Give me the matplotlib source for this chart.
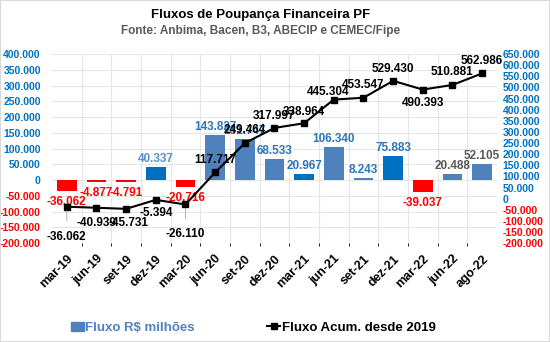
import matplotlib.pyplot as plt
from matplotlib.patches import Patch, Rectangle
from matplotlib.lines import Line2D
from matplotlib.ticker import FixedLocator, FuncFormatter

plt.rcParams['font.family'] = ['Liberation Sans', 'DejaVu Sans']
plt.rcParams['font.weight'] = 'bold'

quarters = ['mar-19', 'jun-19', 'set-19', 'dez-19', 'mar-20', 'jun-20', 'set-20',
            'dez-20', 'mar-21', 'jun-21', 'set-21', 'dez-21', 'mar-22', 'jun-22', 'ago-22']
# fluxo trimestral, R$ milhoes
fluxo = [-36062, -4877, -4791, 40337, -20716, 143827, 131747,
         68533, 20967, 106340, 8243, 75883, -39037, 20488, 52105]
# fluxo acumulado desde 2019
acumulado = [-36062, -40939, -45731, -5394, -26110, 117717, 249464,
             317997, 338964, 445304, 453547, 529430, 490393, 510881, 562986]

RED = '#FF0000'
STEEL = '#4F81BD'
DARK = '#0070C0'
bar_colors = [RED, RED, RED, DARK, RED, STEEL, STEEL,
              STEEL, DARK, STEEL, STEEL, DARK, RED, STEEL, STEEL]
bar_label_colors = [RED, RED, RED, '#5B8FC9', RED, '#2E75B6', '#2E75B6',
                    '#2E75B6', '#2E75B6', '#2E75B6', '#2E75B6', '#2E75B6', RED,
                    '#595959', '#595959']
# deslocamento (px) dos rotulos da linha
line_offsets = [(0, -30), (0, -15), (2, -14), (0, -13), (0, -30), (0, 12), (0, 13),
                (0, 12), (0, 11), (-6, 8), (0, 13), (0, 12), (0, -13), (0, 13), (0, 12)]
leader = [True, False, False, False, True] + [False] * 10


def br(v, pos=None):
    s = f"{abs(v):,.0f}".replace(',', '.')
    return ('-' if v < 0 else '') + s


fig = plt.figure(figsize=(5.5, 3.42), dpi=100)
fig.patches.append(Rectangle((0, 0), 1, 1, transform=fig.transFigure,
                             fill=False, edgecolor='#D9D9D9', lw=1.5))
ax = fig.add_axes([0.0945, 0.289, 0.809, 0.553])
ax2 = ax.twinx()

x = list(range(len(quarters)))
ax.bar(x, fluxo, width=0.66, color=bar_colors, zorder=2)
ax.set_xlim(-0.5, len(quarters) - 0.5)
ax.set_ylim(-200000, 400000)
ax.yaxis.set_major_locator(FixedLocator(range(-200000, 400001, 50000)))
ax.yaxis.set_major_formatter(FuncFormatter(br))
ax.grid(True, color='#E6E6E6', lw=0.8, zorder=0)
ax.set_xticks([i + 0.5 for i in x[:-1]], minor=True)
ax.xaxis.grid(False)
ax.xaxis.grid(True, which='minor', color='#E6E6E6', lw=0.8)
ax.set_xticks(x)
ax.set_xticklabels(quarters, rotation=45, ha='right', rotation_mode='anchor',
                   fontsize=9, fontweight='bold')
ax.tick_params(axis='both', length=0)
ax.tick_params(axis='x', pad=7)
ax.tick_params(axis='y', labelsize=7.5, pad=8)
for t in ax.get_yticklabels():
    t.set_color(RED if t.get_text().startswith('-') else DARK)
    t.set_fontweight('bold')

for i, v in enumerate(fluxo):
    ax.annotate(br(v), (i, v), xytext=(0, 8 if v > 0 else -11),
                textcoords='offset pixels', ha='center', va='center',
                fontsize=8.5, fontweight='bold', color=bar_label_colors[i], zorder=3)

ax2.plot(x, acumulado, color='black', lw=1.5, marker='s', markersize=4.5, zorder=4)
ax2.set_ylim(-200000, 650000)
ax2.yaxis.set_major_locator(FixedLocator(range(-200000, 650001, 50000)))
ax2.yaxis.set_major_formatter(FuncFormatter(br))
ax2.tick_params(axis='y', length=0, labelsize=7.5, pad=4)
for t in ax2.get_yticklabels():
    t.set_color(RED if t.get_text().startswith('-') else DARK)
    t.set_fontweight('bold')

for i, v in enumerate(acumulado):
    dx, dy = line_offsets[i]
    props = dict(arrowstyle='-', color='#A6A6A6', lw=0.6, shrinkA=5, shrinkB=3) if leader[i] else None
    ax2.annotate(br(v), (i, v), xytext=(dx, dy), textcoords='offset pixels',
                 ha='center', va='center', fontsize=8.5, fontweight='bold',
                 color='black', arrowprops=props, zorder=5)

for s in list(ax.spines.values()) + list(ax2.spines.values()):
    s.set_visible(False)

fig.text(0.473, 0.955, 'Fluxos de Poupança Financeira PF', ha='center', va='center',
         fontsize=9.5, fontweight='bold', color='black')
fig.text(0.473, 0.908, 'Fonte: Anbima, Bacen, B3, ABECIP e CEMEC/Fipe', ha='center',
         va='center', fontsize=8.5, fontweight='bold', color='#595959')

handles = [Patch(color=STEEL),
           Line2D([], [], color='black', lw=1.5, marker='s', markersize=4)]
leg = fig.legend(handles, ['Fluxo R$ milhões', 'Fluxo Acum. desde 2019'],
                 loc='center', bbox_to_anchor=(0.46, 0.042), ncol=2, frameon=False,
                 prop={'size': 9.5, 'weight': 'bold'}, handlelength=1.0,
                 handletextpad=0.1, columnspacing=5.5)
leg.get_texts()[0].set_color(STEEL)

fig.savefig('out.png', dpi=100)
